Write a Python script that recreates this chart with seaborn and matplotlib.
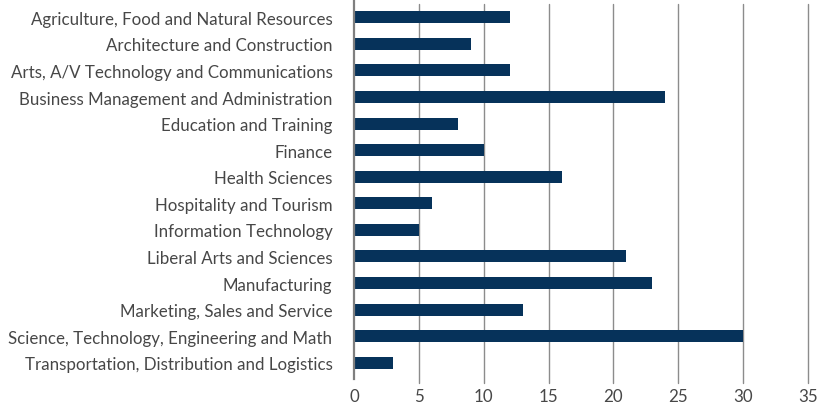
import matplotlib
matplotlib.use("Agg")
import matplotlib.pyplot as plt
import seaborn as sns
import pandas as pd

categories = [
    "Agriculture, Food and Natural Resources",
    "Architecture and Construction",
    "Arts, A/V Technology and Communications",
    "Business Management and Administration",
    "Education and Training",
    "Finance",
    "Health Sciences",
    "Hospitality and Tourism",
    "Information Technology",
    "Liberal Arts and Sciences",
    "Manufacturing",
    "Marketing, Sales and Service",
    "Science, Technology, Engineering and Math",
    "Transportation, Distribution and Logistics",
]
values = [12, 9, 12, 24, 8, 10, 16, 6, 5, 21, 23, 13, 30, 3]
xticks = [0, 5, 10, 15, 20, 25, 30, 35]

df = pd.DataFrame({"category": categories, "value": values})

sns.set_theme(style="white")
plt.rcParams["font.family"] = ["Lato", "DejaVu Sans"]

fig = plt.figure(figsize=(8.32, 4.06), dpi=100)
ax = fig.add_axes([354/832, 1 - 377/406, 454/832, 372/406])

sns.barplot(data=df, x="value", y="category", color="#06325a", width=0.45,
            saturation=1, ax=ax, orient="h", linewidth=0)

ax.set_xlim(0, 35)
ax.set_ylim(13.5, -0.5)
ax.set_xticks(xticks)
ax.set_xticklabels([str(t) for t in xticks])
ax.set_xlabel("")
ax.set_ylabel("")
for t in xticks[1:]:
    ax.axvline(t, color="#8c8c8c", lw=1.0, zorder=0, ymin=-0.02, clip_on=False)
for s in ["top", "right", "bottom"]:
    ax.spines[s].set_visible(False)
ax.spines["left"].set_color("#7f7f7f")
ax.spines["left"].set_linewidth(1.6)
ax.spines["left"].set_bounds(13.6, -0.6)
ax.tick_params(axis="both", length=0, labelsize=12.2, labelcolor="#474747")
ax.tick_params(axis="y", pad=15.5)
ax.tick_params(axis="x", pad=9)
for lab in ax.get_yticklabels():
    lab.set_verticalalignment("center_baseline")

fig.savefig("out.png", dpi=100)
